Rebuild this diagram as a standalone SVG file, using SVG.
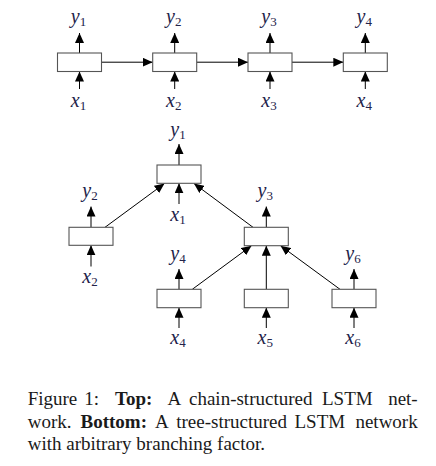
<svg xmlns="http://www.w3.org/2000/svg" width="436" height="466" viewBox="0 0 436 466">
<style>
.box{fill:#fff;stroke:#555;stroke-width:1.1}
.ln{stroke:#000;stroke-width:1;fill:none;marker-end:url(#ah)}
.lab{font-family:"Liberation Serif","Times New Roman",serif;font-style:italic;font-size:20px;fill:#23234a;text-anchor:middle}
.sub{font-style:normal;font-size:13px}
.cap{font-family:"Liberation Serif","Times New Roman",serif;font-size:19px;fill:#1a1a1a}
.b{font-weight:bold}
.end{text-anchor:end}
</style>
<defs>
<marker id="ah" markerUnits="userSpaceOnUse" markerWidth="10" markerHeight="9" refX="10" refY="4.5" orient="auto">
<path d="M0,0 L10,4.5 L0,9 z" fill="#000"/>
</marker>
</defs>
<rect width="436" height="466" fill="#fff"/>
<g id="connectors">
<line class="ln" x1="79.5" y1="53" x2="79.5" y2="33"/>
<line class="ln" x1="174.7" y1="53" x2="174.7" y2="33"/>
<line class="ln" x1="270" y1="53" x2="270" y2="33"/>
<line class="ln" x1="365.3" y1="53" x2="365.3" y2="33"/>
<line class="ln" x1="79.5" y1="89" x2="79.5" y2="71.5"/>
<line class="ln" x1="174.7" y1="89" x2="174.7" y2="71.5"/>
<line class="ln" x1="270" y1="89" x2="270" y2="71.5"/>
<line class="ln" x1="365.3" y1="89" x2="365.3" y2="71.5"/>
<line class="ln" x1="101.5" y1="62.2" x2="152.7" y2="62.2"/>
<line class="ln" x1="196.7" y1="62.2" x2="248" y2="62.2"/>
<line class="ln" x1="292" y1="62.2" x2="343.3" y2="62.2"/>
<line class="ln" x1="179" y1="165" x2="179" y2="144"/>
<line class="ln" x1="179" y1="204" x2="179" y2="183.3"/>
<line class="ln" x1="91" y1="227.3" x2="91" y2="206.5"/>
<line class="ln" x1="91" y1="266.5" x2="91" y2="245.3"/>
<line class="ln" x1="266.3" y1="227.3" x2="266.3" y2="206.5"/>
<line class="ln" x1="179" y1="289.3" x2="179" y2="269"/>
<line class="ln" x1="179" y1="328" x2="179" y2="307.7"/>
<line class="ln" x1="266.3" y1="328" x2="266.3" y2="307.7"/>
<line class="ln" x1="354" y1="289.3" x2="354" y2="269"/>
<line class="ln" x1="354" y1="328" x2="354" y2="307.7"/>
<line class="ln" x1="105" y1="227.3" x2="164.5" y2="183.5"/>
<line class="ln" x1="253" y1="227.3" x2="194" y2="183.5"/>
<line class="ln" x1="192.3" y1="289.3" x2="251.5" y2="245.7"/>
<line class="ln" x1="266.3" y1="289.3" x2="266.3" y2="245.7"/>
<line class="ln" x1="340" y1="289.3" x2="280.5" y2="245.7"/>
</g>
<g id="c1"><rect class="box" x="57.5" y="53" width="44" height="18.5"/><text class="lab" x="78.5" y="22.5">y<tspan class="sub" dy="3">1</tspan></text><text class="lab" x="78.5" y="107">x<tspan class="sub" dy="3">1</tspan></text></g>
<g id="c2"><rect class="box" x="152.7" y="53" width="44" height="18.5"/><text class="lab" x="173.7" y="22.5">y<tspan class="sub" dy="3">2</tspan></text><text class="lab" x="173.7" y="107">x<tspan class="sub" dy="3">2</tspan></text></g>
<g id="c3"><rect class="box" x="248" y="53" width="44" height="18.5"/><text class="lab" x="269" y="22.5">y<tspan class="sub" dy="3">3</tspan></text><text class="lab" x="269" y="107">x<tspan class="sub" dy="3">3</tspan></text></g>
<g id="c4"><rect class="box" x="343.3" y="53" width="44" height="18.5"/><text class="lab" x="364.3" y="22.5">y<tspan class="sub" dy="3">4</tspan></text><text class="lab" x="364.3" y="107">x<tspan class="sub" dy="3">4</tspan></text></g>
<g id="t1"><rect class="box" x="157" y="165" width="44" height="18.3"/><text class="lab" x="178" y="135.5">y<tspan class="sub" dy="3">1</tspan></text><text class="lab" x="178" y="221">x<tspan class="sub" dy="3">1</tspan></text></g>
<g id="t2"><rect class="box" x="69" y="227.3" width="44" height="18"/><text class="lab" x="90" y="197">y<tspan class="sub" dy="3">2</tspan></text><text class="lab" x="90" y="283">x<tspan class="sub" dy="3">2</tspan></text></g>
<g id="t3"><rect class="box" x="244.3" y="227.3" width="44" height="18.4"/><text class="lab" x="265.3" y="197">y<tspan class="sub" dy="3">3</tspan></text></g>
<g id="t4"><rect class="box" x="157" y="289.3" width="44" height="18.4"/><text class="lab" x="178" y="259.5">y<tspan class="sub" dy="3">4</tspan></text><text class="lab" x="178" y="343.5">x<tspan class="sub" dy="3">4</tspan></text></g>
<g id="t5"><rect class="box" x="244.3" y="289.3" width="44" height="18.4"/><text class="lab" x="265.3" y="343.5">x<tspan class="sub" dy="3">5</tspan></text></g>
<g id="t6"><rect class="box" x="332" y="289.3" width="44" height="18.4"/><text class="lab" x="353" y="259.5">y<tspan class="sub" dy="3">6</tspan></text><text class="lab" x="353" y="343.5">x<tspan class="sub" dy="3">6</tspan></text></g>
<g id="caption">
<text class="cap" y="405"><tspan x="27.7">Figure</tspan><tspan x="84.3">1:</tspan><tspan x="115" class="b">Top:</tspan><tspan x="167.5">A</tspan><tspan x="189">chain-structured</tspan><tspan x="322">LSTM</tspan><tspan x="417.7" class="end">net-</tspan></text>
<text class="cap" y="427.5"><tspan x="27.7">work.</tspan><tspan x="80.5" class="b">Bottom:</tspan><tspan x="155">A</tspan><tspan x="176.2">tree-structured</tspan><tspan x="294.5">LSTM</tspan><tspan x="417.7" class="end">network</tspan></text>
<text class="cap" x="27.7" y="450">with arbitrary branching factor.</text>
</g>
</svg>
